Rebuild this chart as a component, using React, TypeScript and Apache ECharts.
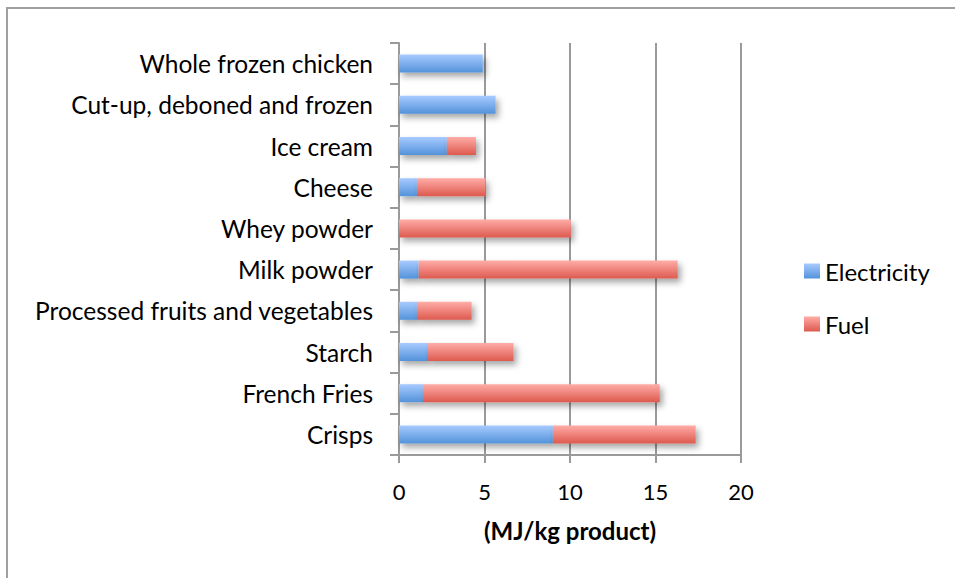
import React, { useEffect, useRef } from "react";
import * as echarts from "echarts";

const categories = [
  "Whole frozen chicken",
  "Cut-up, deboned and frozen",
  "Ice cream",
  "Cheese",
  "Whey powder",
  "Milk powder",
  "Processed fruits and vegetables",
  "Starch",
  "French Fries",
  "Crisps",
];
const electricity = [4.9, 5.65, 2.8, 1.05, 0, 1.15, 1.05, 1.7, 1.4, 9.0];
const fuel = [0, 0, 1.7, 4.0, 10.05, 15.15, 3.2, 5.0, 13.85, 8.35];
const xTicks = [0, 5, 10, 15, 20];
const seriesNames = ["Electricity", "Fuel"];

const FONT = "Lato, 'Open Sans', sans-serif";

function grad(top: string, bottom: string) {
  return new echarts.graphic.LinearGradient(0, 0, 0, 1, [
    { offset: 0, color: top },
    { offset: 1, color: bottom },
  ]);
}

export default function App() {
  const ref = useRef<HTMLDivElement>(null);
  useEffect(() => {
    if (!ref.current) return;
    const chart = echarts.init(ref.current, undefined, { renderer: "svg" });
    const shadow = {
      shadowColor: "rgba(0,0,0,0.35)",
      shadowBlur: 6,
      shadowOffsetX: 3,
      shadowOffsetY: 4,
    };
    chart.setOption({
      animation: false,
      backgroundColor: "#ffffff",
      grid: { left: 399, top: 43, width: 342, height: 412, containLabel: false },
      xAxis: {
        type: "value",
        min: xTicks[0],
        max: xTicks[xTicks.length - 1],
        interval: 5,
        name: "(MJ/kg product)",
        nameLocation: "middle",
        nameGap: 63,
        nameTextStyle: { fontFamily: FONT, fontSize: 24, fontWeight: "bold", color: "#000" },
        axisLine: { show: true, lineStyle: { color: "#9a9a9a", width: 2 } },
        axisTick: { show: true, length: 8, lineStyle: { color: "#9a9a9a", width: 2 } },
        axisLabel: { margin: 25, fontFamily: FONT, fontSize: 22, color: "#000" },
        splitLine: { show: true, lineStyle: { color: "#9a9a9a", width: 2 } },
      },
      yAxis: {
        type: "category",
        data: categories,
        inverse: true,
        axisLine: { show: true, lineStyle: { color: "#9a9a9a", width: 2 } },
        axisTick: { show: true, length: 9, lineStyle: { color: "#9a9a9a", width: 2 } },
        axisLabel: { margin: 26, fontFamily: FONT, fontSize: 24.5, color: "#000" },
        splitLine: { show: false },
      },
      legend: {
        orient: "vertical",
        left: 804,
        top: 259,
        padding: 0,
        itemWidth: 16,
        itemHeight: 15,
        itemGap: 29,
        icon: "rect",
        textStyle: { fontFamily: FONT, fontSize: 24, color: "#000", padding: [0, 0, 0, 0] },
        data: seriesNames,
      },
      series: [
        {
          name: seriesNames[0],
          type: "bar",
          stack: "total",
          barWidth: 18,
          data: electricity,
          itemStyle: { color: grad("#a8caff", "#5393da"), ...shadow },
        },
        {
          name: seriesNames[1],
          type: "bar",
          stack: "total",
          barWidth: 18,
          data: fuel,
          itemStyle: { color: grad("#ffaca7", "#dd5a4f"), ...shadow },
        },
      ],
      graphic: [
        { type: "line", shape: { x1: 7, y1: 8, x2: 7, y2: 578 }, style: { stroke: "#a0a0a0", lineWidth: 2 } },
        { type: "line", shape: { x1: 6, y1: 8, x2: 955, y2: 8 }, style: { stroke: "#a0a0a0", lineWidth: 2 } },
      ],
    });
    return () => chart.dispose();
  }, []);
  return (
    <div
      ref={ref}
      style={{ position: "absolute", left: 0, top: 0, width: 955, height: 578 }}
    />
  );
}
